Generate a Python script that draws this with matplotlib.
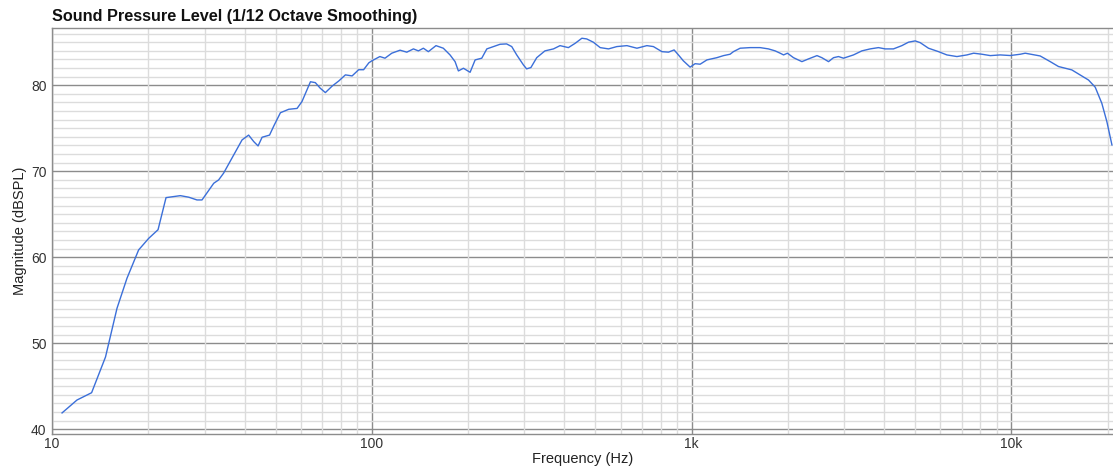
import numpy as np
import matplotlib.pyplot as plt
from matplotlib.ticker import FixedLocator, NullFormatter

plt.rcParams['font.family'] = ['Liberation Sans', 'DejaVu Sans']

# 1/12 octave smoothed SPL
freq_hz = [10.75, 11.97, 13.3, 14.7, 15.97, 17.16, 18.66, 20.07, 21.46, 22.73,
           25.2, 26.77, 28.4, 29.45, 32.05, 33.2, 34.4, 37.0, 39.3, 41.2,
           42.76, 44.1, 45.4, 47.9, 49.4, 51.8, 55.0, 58.4, 60.5, 64.3,
           66.6, 69.0, 71.6, 75.2, 78.9, 82.7, 86.8, 91.0, 94.3, 97.9,
           100, 106, 110, 115.5, 122.6, 128.7, 135, 139.9, 145, 150.3,
           158.8, 167.4, 175.7, 182.2, 186.6, 193.5, 203, 210.5, 220.8, 229,
           240, 252, 264, 274, 284, 298, 305, 314.5, 328, 348,
           370, 388, 412, 433, 454, 470, 493, 518, 550, 584,
           628, 675, 725, 760, 808, 847, 882, 910, 943, 990,
           1026, 1064, 1117, 1200, 1259, 1320, 1352, 1419, 1525, 1639,
           1740, 1826, 1893, 1940, 1995, 2084, 2214, 2323, 2468, 2556,
           2682, 2780, 2882, 2987, 3097, 3210, 3409, 3620, 3842, 4033,
           4280, 4548, 4769, 5005, 5188, 5508, 5923, 6288, 6760, 7266,
           7625, 8097, 8598, 9235, 9926, 10670, 11054, 12312, 13236, 14050,
           15460, 16410, 17440, 18300, 19190, 19900, 20640]
spl_db = [41.9, 43.4, 44.25, 48.4, 54.07, 57.56, 60.85, 62.2, 63.2, 66.93,
          67.16, 66.98, 66.66, 66.66, 68.6, 68.99, 69.77, 71.9, 73.64, 74.2,
          73.44, 72.94, 73.95, 74.2, 75.27, 76.8, 77.2, 77.3, 78.1, 80.4,
          80.3, 79.65, 79.14, 79.9, 80.5, 81.2, 81.08, 81.8, 81.8, 82.6,
          82.83, 83.33, 83.14, 83.72, 84.07, 83.84, 84.22, 83.99, 84.3, 83.9,
          84.6, 84.3, 83.52, 82.74, 81.66, 81.97, 81.5, 82.94, 83.14, 84.22,
          84.49, 84.76, 84.8, 84.49, 83.52, 82.36, 81.9, 82.05, 83.2, 83.99,
          84.22, 84.6, 84.37, 84.88, 85.46, 85.38, 85.0, 84.37, 84.22, 84.49,
          84.6, 84.3, 84.6, 84.49, 83.9, 83.84, 84.1, 83.52, 82.83, 82.1,
          82.5, 82.44, 82.94, 83.2, 83.44, 83.6, 83.9, 84.3, 84.37, 84.37,
          84.22, 83.99, 83.72, 83.52, 83.72, 83.2, 82.74, 83.06, 83.44, 83.2,
          82.74, 83.2, 83.33, 83.14, 83.33, 83.52, 83.99, 84.22, 84.37, 84.22,
          84.22, 84.6, 85.0, 85.15, 84.95, 84.3, 83.9, 83.52, 83.33, 83.52,
          83.72, 83.6, 83.44, 83.52, 83.45, 83.6, 83.72, 83.4, 82.74, 82.17,
          81.78, 81.2, 80.6, 79.77, 77.9, 75.77, 73.06]

x_major = [10, 100, 1000, 10000]
x_labels = ['10', '100', '1k', '10k']
y_major = [40, 50, 60, 70, 80]

W, H = 1113, 467
fig = plt.figure(figsize=(W/100, H/100), dpi=100)
ax = fig.add_axes([52/W, 1 - 434/H, (W - 52)/W, (434 - 28)/H])

ax.semilogx(freq_hz, spl_db, color='#3b6fd9', lw=1.0, zorder=3)

ax.set_xlim(10, 20800)
ax.set_ylim(39.45, 86.65)

# light minor grid via the tick machinery, dark major lines drawn on top
x_minor = [m * d for d in (10, 100, 1000, 10000) for m in range(2, 10)]
x_minor = [v for v in x_minor if v < 20800]
ax.xaxis.set_major_locator(FixedLocator(x_major))
ax.xaxis.set_minor_locator(FixedLocator(x_minor))
ax.set_xticklabels(x_labels)
ax.xaxis.set_minor_formatter(NullFormatter())
ax.yaxis.set_major_locator(FixedLocator(y_major))
ax.yaxis.set_minor_locator(FixedLocator(list(range(40, 87))))

ax.grid(True, which='minor', color='#dcdcdc', lw=1.0)
for xv in x_major:
    ax.axvline(xv, color='#8c8c8c', lw=1.0, zorder=1.5)
for yv in y_major:
    ax.axhline(yv, color='#8c8c8c', lw=1.0, zorder=1.5)

ax.tick_params(which='both', length=0, labelsize=10, colors='#333333')
ax.tick_params(axis='x', pad=2)
ax.tick_params(axis='y', pad=4)

for s in ('left', 'top', 'bottom'):
    ax.spines[s].set_color('#8c8c8c')
    ax.spines[s].set_linewidth(1.0)
ax.spines['right'].set_visible(False)

ax.set_xlabel('Frequency (Hz)', fontsize=10.5, color='#222222', labelpad=1)
ax.set_ylabel('Magnitude (dBSPL)', fontsize=10.5, color='#222222', labelpad=3)

fig.text(52/W, 1 - 17/H, 'Sound Pressure Level (1/12 Octave Smoothing)',
         fontsize=11.7, fontweight='bold', ha='left', va='center', color='#111111')

fig.savefig('out.png', dpi=100)
